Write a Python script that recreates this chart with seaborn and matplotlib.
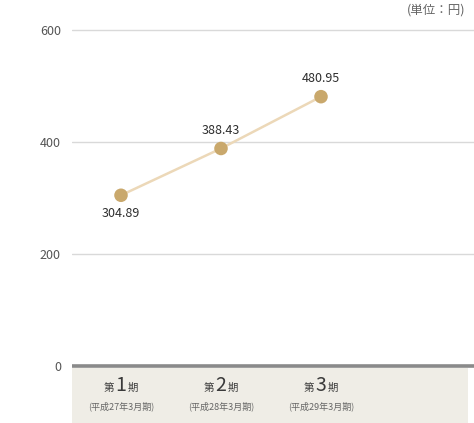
import matplotlib
matplotlib.use("Agg")
import matplotlib.pyplot as plt
import seaborn as sns
import pandas as pd

sns.set_theme(style="white")
plt.rcParams['font.family'] = ['Noto Sans CJK JP', 'DejaVu Sans']

# ---------------------- data ----------------------
periods = ["1", "2", "3"]
fiscal_years = ["(平成27年3月期)", "(平成28年3月期)", "(平成29年3月期)"]
values = [304.89, 388.43, 480.95]
value_labels = ["304.89", "388.43", "480.95"]
y_ticks = [0, 200, 400, 600]
unit_text = "(単位：円)"

df = pd.DataFrame({"x": range(len(values)), "value": values})

line_color = "#ecd8b8"
marker_color = "#c9a86c"
text_color = "#2e2e2e"

fig = plt.figure(figsize=(4.74, 4.23), dpi=100)
ax = fig.add_axes([72 / 474, 0, (474 - 72) / 474, 1])

ax.set_xlim(-0.49, 3.53)
ax.set_ylim(-101.8, 653.6)

# grey band behind category labels
ax.axhspan(-101.8, -3, xmin=0, xmax=0.985, color="#efede6", lw=0, zorder=0)

# gridlines
for t in y_ticks[1:]:
    ax.axhline(t, color="#d9d9d9", lw=1.0, zorder=1)
ax.axhline(0, color="#8a8a8a", lw=2.6, zorder=2)

sns.lineplot(data=df, x="x", y="value", ax=ax, color=line_color, lw=1.8,
             zorder=3, legend=False)
sns.scatterplot(data=df, x="x", y="value", ax=ax, color=marker_color, s=95,
                edgecolor="none", zorder=4, legend=False)

# value labels
offsets = [-13, 13, 13]
for i, (v, lab) in enumerate(zip(values, value_labels)):
    ax.annotate(lab, (i, v), xytext=(0, offsets[i]), textcoords="offset points",
                ha="center", va="center", fontsize=9, color=text_color)

# category labels
for i, (p, fy) in enumerate(zip(periods, fiscal_years)):
    ax.annotate(p, (i, 0), xytext=(0, -14), textcoords="offset points",
                ha="center", va="center", fontsize=14, color="#3a3a3a")
    ax.annotate("第", (i, 0), xytext=(-5, -15.5), textcoords="offset points",
                ha="right", va="center", fontsize=7.5, color="#3a3a3a")
    ax.annotate("期", (i, 0), xytext=(5, -15.5), textcoords="offset points",
                ha="left", va="center", fontsize=7.5, color="#3a3a3a")
    ax.annotate(fy, (i, 0), xytext=(0, -29), textcoords="offset points",
                ha="center", va="center", fontsize=6.5, color="#666666")

# y tick labels
ax.set_yticks(y_ticks)
ax.set_yticklabels([str(t) for t in y_ticks], fontsize=9, color="#555555")
ax.tick_params(axis="y", length=0, pad=8)
ax.set_xticks([])
ax.set_xlabel("")
ax.set_ylabel("")
for s in ax.spines.values():
    s.set_visible(False)

fig.text(465 / 474, 1 - 10 / 423, unit_text, ha="right", va="center",
         fontsize=9, color="#666666")

fig.savefig("out.png", dpi=100)
